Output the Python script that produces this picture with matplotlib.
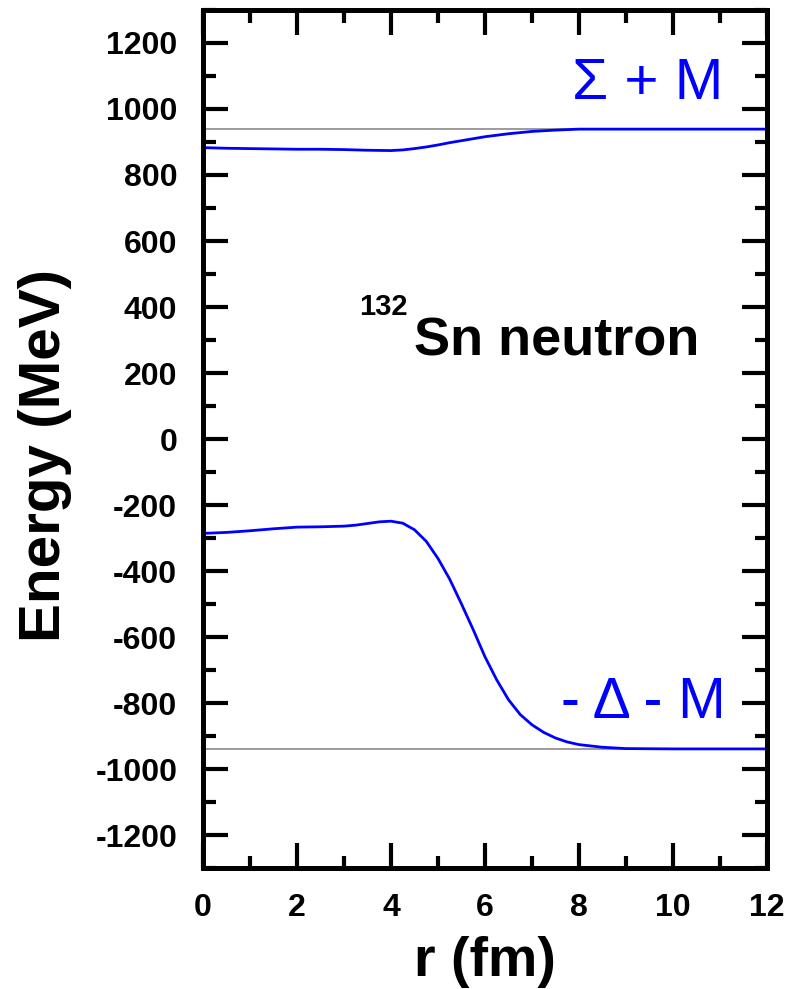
import numpy as np
import matplotlib.pyplot as plt
from matplotlib.ticker import MultipleLocator

# potentials (r in fm, energy in MeV)
r_up = [0.0, 0.5, 1.0, 1.5, 2.0, 2.5, 3.0, 3.5, 4.0, 4.25, 4.5, 4.75,
        5.0, 5.25, 5.5, 5.75, 6.0, 6.5, 7.0, 7.5, 8.0, 9.0, 10.0, 12.0]
sigma_m = [883, 881, 880, 879, 878, 878, 877, 875, 874, 876, 880, 885,
           891, 898, 904, 910, 916, 925, 932, 936, 939, 939, 939, 939]
r_lo = [0.0, 0.5, 1.0, 1.5, 2.0, 2.5, 3.0, 3.25, 3.5, 3.75, 4.0, 4.25,
        4.5, 4.75, 5.0, 5.25, 5.5, 5.75, 6.0, 6.25, 6.5, 6.75, 7.0, 7.25,
        7.5, 7.75, 8.0, 8.5, 9.0, 10.0, 12.0]
delta_m = [-286, -283, -278, -272, -267, -266, -264, -261, -256, -251,
           -249, -255, -275, -310, -362, -425, -500, -578, -660, -730,
           -790, -835, -866, -889, -906, -918, -926, -934, -938, -939,
           -939]
mass = 939.0

font = 'Liberation Sans'
blue = '#0000ff'

fig = plt.figure(figsize=(7.91, 9.89), dpi=100)
ax = fig.add_axes([0.2566, 0.1223, 0.7131, 0.8676])

ax.axhline(mass, color='#808080', lw=1.1)
ax.axhline(-mass, color='#808080', lw=1.1)
ax.plot(r_up, sigma_m, color=blue, lw=2.0)
ax.plot(r_lo, delta_m, color=blue, lw=2.0)

ax.set_xlim(0, 12)
ax.set_ylim(-1300, 1300)
ax.xaxis.set_major_locator(MultipleLocator(2))
ax.xaxis.set_minor_locator(MultipleLocator(1))
ax.yaxis.set_major_locator(MultipleLocator(200))
ax.yaxis.set_minor_locator(MultipleLocator(100))

ax.tick_params(which='both', direction='in', top=True, right=True, width=3)
ax.tick_params(which='major', length=18)
ax.tick_params(which='minor', length=9)
ax.tick_params(axis='x', which='major', pad=18)
ax.tick_params(axis='y', which='major', pad=18.5)
yt = np.arange(-1200, 1201, 200)
ax.set_yticks(yt)
ax.set_yticklabels([str(v) for v in yt])
for lab in ax.get_xticklabels() + ax.get_yticklabels():
    lab.set_fontfamily(font)
    lab.set_fontweight('bold')
    lab.set_fontsize(23)
for s in ax.spines.values():
    s.set_linewidth(3.6)

# axis titles
fig.text(485 / 791, 1 - 976 / 989, 'r (fm)', fontfamily=font,
         fontweight='bold', fontsize=40, ha='center', va='baseline')
fig.text(60 / 791, 1 - 455 / 989, 'Energy (MeV)', fontfamily=font,
         fontweight='bold', fontsize=42, rotation=90, rotation_mode='anchor',
         ha='center', va='baseline')

ax.text(11.06, 1030, '\u03a3 + M', color=blue, fontfamily=font,
        fontsize=42, ha='right', va='baseline')
ax.text(11.12, -845, '- \u0394 - M', color=blue, fontfamily=font,
        fontsize=41, ha='right', va='baseline')
ax.text(3.32, 376, '132', fontfamily=font, fontweight='bold', fontsize=21,
        va='baseline')
ax.text(4.49, 254, 'Sn neutron', fontfamily=font, fontweight='bold',
        fontsize=39, va='baseline')

fig.savefig('out.png', dpi=100)
